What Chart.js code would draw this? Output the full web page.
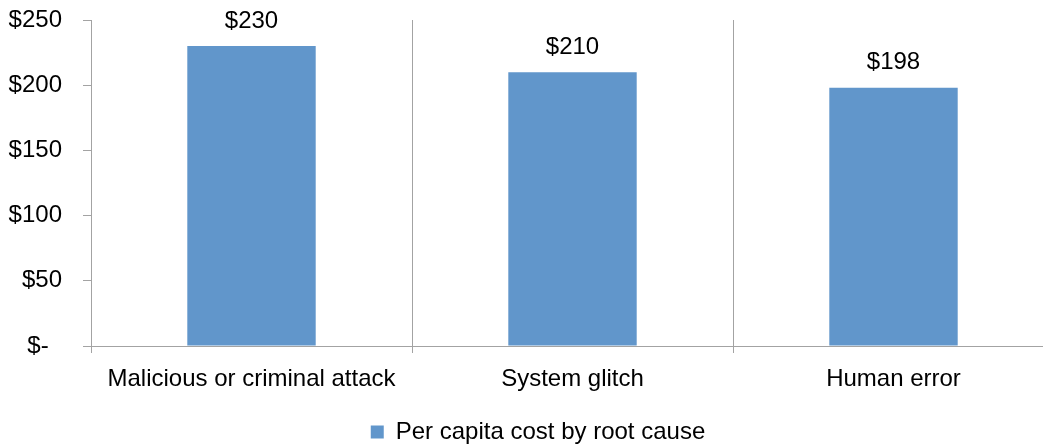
<!DOCTYPE html>
<html>
<head>
<meta charset="utf-8">
<script src="https://cdn.jsdelivr.net/npm/chart.js@4.4.1/dist/chart.umd.min.js"></script>
<style>
html,body{margin:0;padding:0;background:#fff;overflow:hidden;width:1043px;height:446px;}
#wrap{position:absolute;left:0;top:0;width:1056px;height:446px;overflow:hidden;}
</style>
</head>
<body>
<div id="wrap"><canvas id="c" width="1056" height="454"></canvas></div>
<script>
const categories = ["Malicious or criminal attack", "System glitch", "Human error"];
const seriesName = "Per capita cost by root cause";
const values = [230, 210, 198];
const yTicks = [0, 50, 100, 150, 200, 250];

const FONT = "'Liberation Sans', Arial, sans-serif";
const FS = 24;
const GRAY = "#a3a3a3";
const BAR = "rgb(97,150,203)";

function money(v){ return v === 0 ? "$-  " : "$" + v; }

const labelPlugin = {
  id: "valueLabels",
  afterLayout(chart){
    if (chart.legend) { chart.legend.left += 11; chart.legend.right += 11; }
  },
  afterDatasetsDraw(chart){
    const ctx = chart.ctx;
    const meta = chart.getDatasetMeta(0);
    ctx.save();
    ctx.font = FS + "px " + FONT;
    ctx.fillStyle = "#000";
    ctx.textAlign = "center";
    ctx.textBaseline = "middle";
    meta.data.forEach((bar, i) => {
      ctx.fillText(money(values[i]), bar.x, bar.y - 25);
    });
    ctx.restore();
  }
};

new Chart(document.getElementById("c"), {
  type: "bar",
  data: {
    labels: categories,
    datasets: [{
      label: seriesName,
      data: values,
      backgroundColor: BAR,
      borderWidth: 0,
      categoryPercentage: 1,
      barPercentage: 0.4
    }]
  },
  options: {
    responsive: false,
    animation: false,
    devicePixelRatio: 1,
    layout: { padding: { top: 20, right: 2, left: 0, bottom: 0 } },
    plugins: {
      legend: {
        position: "bottom",
        labels: {
          font: { size: FS, family: FONT },
          color: "#000",
          boxWidth: 13,
          boxHeight: 13,
          padding: 0,
          generateLabels(chart){
            return [{ text: seriesName, fillStyle: BAR, strokeStyle: BAR, lineWidth: 0, hidden: false, datasetIndex: 0 }];
          }
        }
      },
      tooltip: { enabled: false }
    },
    scales: {
      x: {
        offset: true,
        afterFit(scale){ scale.height = 74; },
        grid: { display: true, offset: true, drawOnChartArea: true, drawTicks: true, tickLength: 7, color: GRAY, lineWidth: 1 },
        border: { display: true, color: GRAY, width: 1 },
        ticks: { font: { size: FS, family: FONT }, color: "#000", padding: 12, maxRotation: 0, autoSkip: false }
      },
      y: {
        min: 0,
        max: 250,
        afterBuildTicks(scale){ scale.ticks = yTicks.map(v => ({ value: v })); },
        afterFit(scale){ scale.width = 91; scale.paddingTop = 0; scale.paddingBottom = 0; },
        grid: { display: true, drawOnChartArea: false, drawTicks: true, tickLength: 8, color: GRAY, lineWidth: 1 },
        border: { display: true, color: GRAY, width: 1 },
        ticks: { font: { size: FS, family: FONT }, color: "#000", padding: 21, callback: (v) => money(v) }
      }
    }
  },
  plugins: [labelPlugin]
});
</script>
</body>
</html>
